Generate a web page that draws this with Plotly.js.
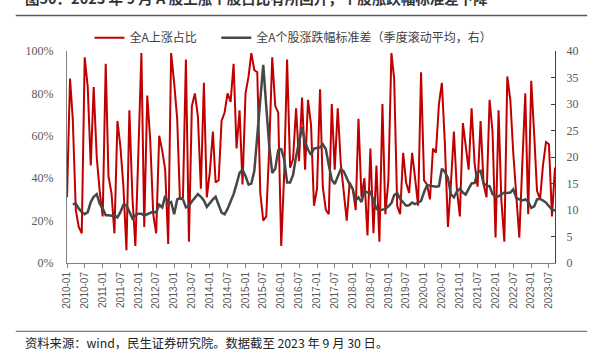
<!DOCTYPE html>
<html>
<head>
<meta charset="utf-8">
<script src="https://cdn.plot.ly/plotly-3.0.1.min.js"></script>
<style>
html,body{margin:0;padding:0;background:#fff;}
#chart{width:590px;height:354px;}
</style>
</head>
<body>
<div id="chart"></div>
<script>
// Monthly observations, 2010-01 .. 2023-09
var startYear = 2010, startMonth = 1, monthCount = 165;

// 全A上涨占比 (%)
var upRatio = [
31,87,68,25,17,14,97,83,46,83,50,34,
22,94,41,33,14,67,55,36,6,72,31,8,
52,99,17,79,58,23,14,60,53,44,9,99,
85,68,30,31,96,10,74,80,69,35,85,31,
43,62,38,39,67,71,80,76,94,54,72,37,
80,88,99,91,90,33,20,22,55,97,74,71,
8,43,96,45,49,73,48,78,44,77,65,27,
35,82,36,25,23,75,44,73,47,34,20,38,
35,25,68,31,40,13,54,14,46,10,75,23,
39,99,87,27,23,52,38,33,52,40,27,90,
39,37,30,54,52,75,85,56,17,37,62,35,
22,66,55,44,73,47,36,67,37,31,77,62,
12,72,30,10,88,77,52,33,12,46,80,23,
86,60,34,30,46,57,56,22,45
];

// 全A个股涨跌幅标准差（季度滚动平均）
var stdRolling = [
null,null,11.1,11.2,10.3,9.6,9.2,9.6,11.5,12.5,13.0,11.2,
10.3,9.0,9.0,8.9,9.0,8.6,9.6,11.0,10.9,9.6,8.4,9.0,
9.3,9.3,8.9,9.2,9.5,9.7,9.5,11.0,10.5,12.7,11.2,11.5,
9.2,12.0,12.3,12.0,10.5,10.8,11.6,12.3,13.0,12.5,11.8,10.6,
11.4,12.0,12.5,11.0,9.5,9.2,10.2,11.6,13.0,14.9,17.0,17.6,
16.4,14.8,15.0,17.4,24.0,31.0,37.4,29.5,22.0,17.0,17.8,21.3,
21.5,19.5,15.2,15.2,16.6,20.1,23.0,25.6,22.8,21.4,20.4,21.6,
21.7,21.8,22.4,21.5,18.5,15.7,14.9,16.5,17.7,17.3,16.0,14.8,
14.0,11.8,12.4,11.5,13.6,13.3,13.4,11.8,10.2,9.9,10.1,10.2,
10.7,11.3,12.8,13.2,12.1,11.5,10.8,10.9,11.4,11.1,11.4,11.7,
13.4,14.7,14.6,14.5,14.4,14.5,17.8,17.2,16.0,13.0,12.4,13.5,
14.0,13.3,12.9,14.0,15.0,15.1,17.1,17.4,15.0,14.6,14.5,13.0,
12.5,12.6,13.0,13.3,13.2,13.3,13.9,12.3,12.0,11.8,12.0,11.6,
10.4,10.7,12.0,12.1,11.8,11.4,10.7,10.1,9.9
];

var seriesNames = ['全A上涨占比', '全A个股涨跌幅标准差（季度滚动平均，右）'];
var titleText = '图50：2023 年 9 月 A 股上涨个股占比有所回升，个股涨跌幅标准差下降';
var sourceText = '资料来源：wind，民生证券研究院。数据截至 2023 年 9 月 30 日。';

var months = [];
for (var i = 0; i < monthCount; i++) {
  var y = startYear + Math.floor((startMonth - 1 + i) / 12);
  var m = (startMonth - 1 + i) % 12 + 1;
  months.push(y + '-' + (m < 10 ? '0' + m : m) + '-01');
}
var upFrac = upRatio.map(function (v) { return v / 100; });

var cjk = '"Noto Sans CJK SC", "Noto Sans", sans-serif';
var serif = '"Liberation Serif", "DejaVu Serif", serif';
var legendFont = {family: cjk, size: 12, color: '#404040'};

var traces = [
  {x: months, y: upFrac, name: seriesNames[0], type: 'scatter', mode: 'lines',
   line: {color: '#C00000', width: 2}, yaxis: 'y', legend: 'legend'},
  {x: months, y: stdRolling, name: seriesNames[1], type: 'scatter', mode: 'lines',
   line: {color: '#474747', width: 2.5}, yaxis: 'y2', connectgaps: false, legend: 'legend2'}
];

var layout = {
  width: 590, height: 354,
  margin: {l: 67, r: 35, t: 51, b: 91},
  paper_bgcolor: '#ffffff', plot_bgcolor: '#ffffff',
  showlegend: true,
  legend: {orientation: 'h', x: 0.046, y: 1.063, xanchor: 'left', yanchor: 'middle',
           font: legendFont, bgcolor: 'rgba(0,0,0,0)'},
  legend2: {orientation: 'h', x: 0.306, y: 1.063, xanchor: 'left', yanchor: 'middle',
           font: legendFont, bgcolor: 'rgba(0,0,0,0)'},
  xaxis: {type: 'date', range: [months[0], months[monthCount - 1]],
          tick0: months[0], dtick: 'M6', tickformat: '%Y-%m', tickangle: -90,
          ticks: 'outside', ticklen: 4, tickcolor: '#808080',
          showline: true, linecolor: '#808080', linewidth: 1,
          showgrid: false, zeroline: false,
          tickfont: {family: '"Liberation Sans", Arial, sans-serif', size: 10, color: '#595959'}},
  yaxis: {range: [0, 1], dtick: 0.2, tickformat: '.0%',
          showline: true, linecolor: '#808080', linewidth: 1, ticks: '',
          ticklabelstandoff: 10,
          showgrid: false, zeroline: false,
          tickfont: {family: serif, size: 12, color: '#595959'}},
  yaxis2: {range: [0, 40], dtick: 5, overlaying: 'y', side: 'right',
           showline: true, linecolor: '#404040', linewidth: 1,
           ticks: 'inside', ticklen: 4, tickcolor: '#404040',
           ticklabelstandoff: 8,
           showgrid: false, zeroline: false,
           tickfont: {family: serif, size: 12, color: '#595959'}},
  shapes: [
    {type: 'line', xref: 'paper', yref: 'paper', x0: -0.105, x1: 1.066, y0: 1.168, y1: 1.168,
     line: {color: '#595959', width: 1.5}},
    {type: 'line', xref: 'paper', yref: 'paper', x0: -0.105, x1: 1.066, y0: -0.322, y1: -0.322,
     line: {color: '#595959', width: 1}}
  ],
  annotations: [
    {xref: 'paper', yref: 'paper', x: -0.09, y: 1.193, xanchor: 'left', yanchor: 'bottom',
     text: '<b>' + titleText + '</b>', showarrow: false,
     font: {family: cjk, size: 14.5, color: '#333333'}},
    {xref: 'paper', yref: 'paper', x: -0.09, y: -0.378, xanchor: 'left', yanchor: 'middle',
     text: sourceText, showarrow: false,
     font: {family: cjk, size: 12.3, color: '#222222'}}
  ]
};

Plotly.newPlot('chart', traces, layout, {displayModeBar: false, staticPlot: true});
</script>
</body>
</html>
